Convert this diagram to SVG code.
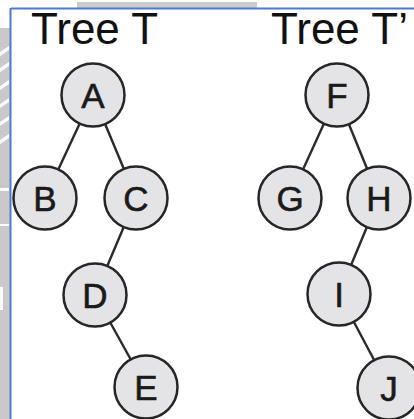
<svg xmlns="http://www.w3.org/2000/svg" width="414" height="419" viewBox="0 0 414 419">
  <style>
    .title { font-family: "Liberation Sans", Arial, sans-serif; font-size: 44px; fill: #111111; }
    .node circle { fill: #e4e4e7; stroke: #262626; stroke-width: 2.5; }
    .node text { font-family: "Liberation Sans", Arial, sans-serif; font-size: 35px; fill: #1a1a1a; stroke: #1a1a1a; stroke-width: 0.6; text-anchor: middle; }
    .edges line { stroke: #2a2a2a; stroke-width: 2.4; }
  </style>

  <!-- page background and frame -->
  <rect x="0" y="0" width="414" height="419" fill="#ffffff"/>
  <rect x="77" y="2" width="180" height="6" fill="#cbcbcb"/>
  <rect x="0" y="28" width="10" height="391" fill="#c9c9c9"/>
  <g fill="#ffffff">
    <polygon points="0,52 9,46 9,50 0,56"/>
    <polygon points="0,68 9,62 9,66 0,72"/>
    <polygon points="0,86 9,80 9,84 0,90"/>
    <polygon points="0,104 9,98 9,102 0,108"/>
    <polygon points="0,122 9,116 9,120 0,126"/>
    <polygon points="0,140 9,134 9,138 0,144"/>
    <rect x="0" y="188" width="9" height="3"/>
    <rect x="0" y="224" width="9" height="2"/>
    <rect x="0" y="287" width="3" height="23"/>
  </g>
  <line x1="11" y1="8.5" x2="414" y2="8.5" stroke="#4a7bd0" stroke-width="2"/>
  <line x1="10.5" y1="8" x2="10.5" y2="419" stroke="#4a7bd0" stroke-width="2"/>

  <!-- titles -->
  <text class="title" x="31" y="44">Tree T</text>
  <text class="title" x="271" y="44">Tree T’</text>

  <!-- connectors -->
  <g id="edges" class="edges">
    <line x1="93" y1="95" x2="45" y2="198"/>
    <line x1="93" y1="95" x2="136" y2="198"/>
    <line x1="136" y1="198" x2="95" y2="295"/>
    <line x1="95" y1="295" x2="146" y2="387"/>
    <line x1="337" y1="95" x2="290" y2="198"/>
    <line x1="337" y1="95" x2="379" y2="198"/>
    <line x1="379" y1="198" x2="339" y2="294"/>
    <line x1="339" y1="294" x2="389" y2="388"/>
  </g>

  <!-- tree T -->
  <g id="node-A" class="node"><circle cx="93" cy="95" r="31.5"/><text x="93" y="107.5">A</text></g>
  <g id="node-B" class="node"><circle cx="45" cy="198" r="31.5"/><text x="45" y="210.5">B</text></g>
  <g id="node-C" class="node"><circle cx="136" cy="198" r="31.5"/><text x="136" y="210.5">C</text></g>
  <g id="node-D" class="node"><circle cx="95" cy="295" r="31.5"/><text x="95" y="307.5">D</text></g>
  <g id="node-E" class="node"><circle cx="146" cy="387" r="31.5"/><text x="146" y="399.5">E</text></g>

  <!-- tree T' -->
  <g id="node-F" class="node"><circle cx="337" cy="95" r="31.5"/><text x="337" y="107.5">F</text></g>
  <g id="node-G" class="node"><circle cx="290" cy="198" r="31.5"/><text x="290" y="210.5">G</text></g>
  <g id="node-H" class="node"><circle cx="379" cy="198" r="31.5"/><text x="379" y="210.5">H</text></g>
  <g id="node-I" class="node"><circle cx="339" cy="294" r="31.5"/><text x="339" y="306.5">I</text></g>
  <g id="node-J" class="node"><circle cx="389" cy="388" r="31.5"/><text x="389" y="400.5">J</text></g>
</svg>
